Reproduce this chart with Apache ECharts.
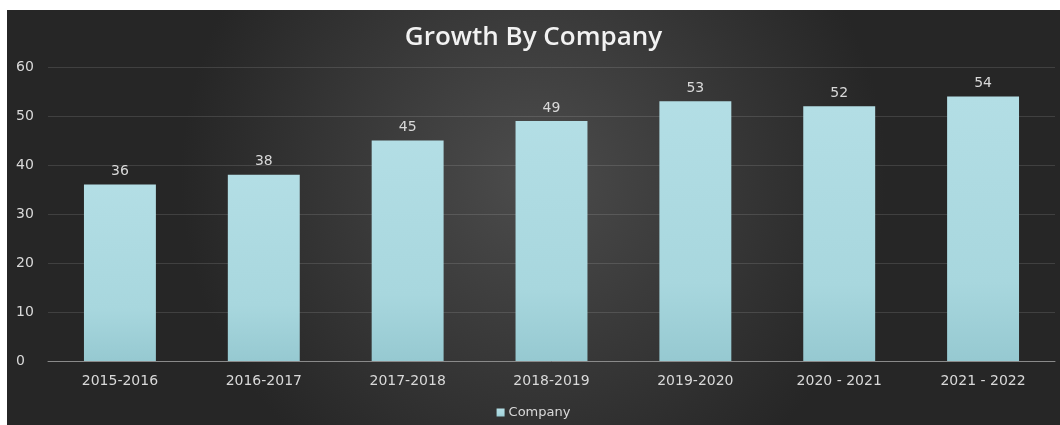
<!DOCTYPE html>
<html>
<head>
<meta charset="utf-8">
<script src="https://cdn.jsdelivr.net/npm/echarts@6/dist/echarts.min.js"></script>
<style>
html,body{margin:0;padding:0;background:#ffffff;width:1060px;height:425px;overflow:hidden;}
#c{position:absolute;left:7px;top:10px;width:1053px;height:415px;}
</style>
</head>
<body>
<div id="c"></div>
<script>
var categories = ['2015-2016','2016-2017','2017-2018','2018-2019','2019-2020','2020 - 2021','2021 - 2022'];
var companyValues = [36, 38, 45, 49, 53, 52, 54];
var yTicks = [0, 10, 20, 30, 40, 50, 60];

var chart = echarts.init(document.getElementById('c'));
var txt = '#d9d9d9';
var fam = 'DejaVu Sans';
chart.setOption({
  backgroundColor: {
    type: 'radial', x: 0.5, y: 0.4, r: 0.85,
    colorStops: [{offset: 0, color: '#4c4c4c'}, {offset: 1, color: '#262626'}]
  },
  animation: false,
  title: {
    text: 'Growth By Company',
    left: 'center',
    top: 10,
    textStyle: {color: '#f2f2f2', fontSize: 26, fontWeight: 600, fontFamily: 'Open Sans'}
  },
  legend: {
    data: ['Company'],
    top: 391,
    left: 'center',
    icon: 'rect',
    itemWidth: 8,
    itemHeight: 8,
    itemGap: 4,
    textStyle: {color: txt, fontSize: 13, fontFamily: fam, padding: [0, 0, 0, -1]}
  },
  grid: {left: 41, right: 5, top: 57, bottom: 64, containLabel: false},
  xAxis: {
    type: 'category',
    data: categories,
    axisTick: {show: false},
    axisLine: {lineStyle: {color: '#8a8a8a', width: 1}},
    axisLabel: {color: txt, fontSize: 14, margin: 13, fontFamily: fam}
  },
  yAxis: {
    type: 'value',
    min: yTicks[0],
    max: yTicks[yTicks.length - 1],
    interval: 10,
    axisLine: {show: false},
    axisTick: {show: false},
    axisLabel: {color: txt, fontSize: 14, margin: 32, align: 'left', fontFamily: fam},
    splitLine: {lineStyle: {color: 'rgba(255,255,255,0.12)', width: 1}}
  },
  series: [{
    name: 'Company',
    type: 'bar',
    data: companyValues,
    barWidth: '50%',
    itemStyle: {
      color: {
        type: 'linear', x: 0, y: 0, x2: 0, y2: 1,
        colorStops: [{offset: 0, color: '#b3dee5'}, {offset: 0.7, color: '#a8d7de'}, {offset: 1, color: '#96c9d1'}]
      }
    },
    label: {show: true, position: 'top', color: txt, fontSize: 14, distance: 6, fontFamily: fam}
  }]
});
</script>
</body>
</html>
